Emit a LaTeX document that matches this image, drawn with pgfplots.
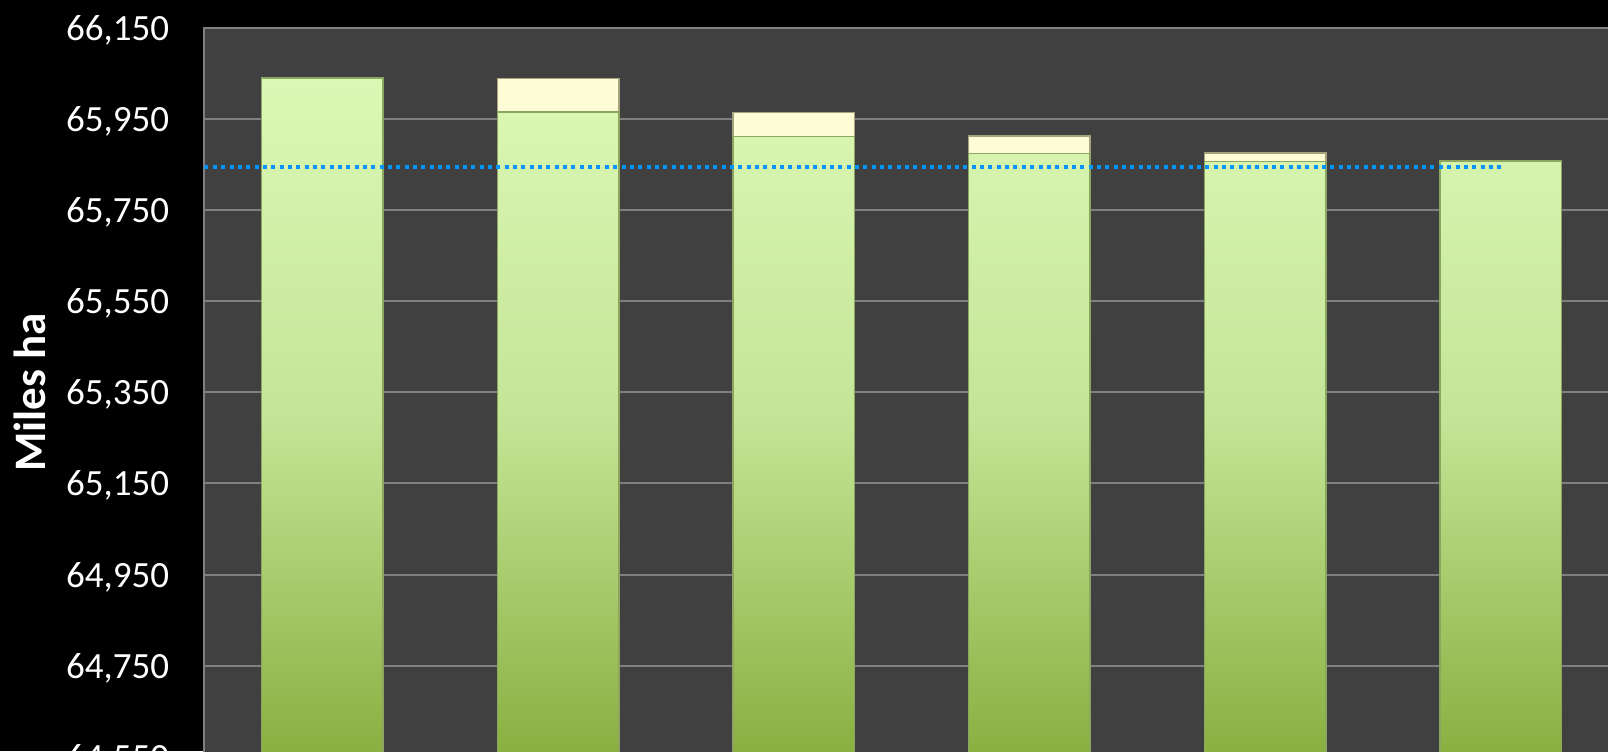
\documentclass[border=0pt]{standalone}
\usepackage{fontspec}
\setmainfont{Carlito}
\usepackage{pgfplots}
\pgfplotsset{compat=1.18}
\definecolor{plotbg}{HTML}{404040}
\definecolor{gridc}{HTML}{808080}
\definecolor{greentop}{RGB}{220,248,182}
\definecolor{greenmid}{RGB}{196,229,150}
\definecolor{greenbot}{RGB}{137,175,64}
\definecolor{greenedge}{RGB}{140,165,95}
\definecolor{cream}{RGB}{252,252,214}
\definecolor{creamedge}{RGB}{165,162,125}
\definecolor{blueline}{RGB}{0,150,255}
\begin{document}
\begin{tikzpicture}[x=1pt,y=1pt]
\useasboundingbox (0,0) rectangle (804,375.5);
\fill[black] (0,0) rectangle (804,375.5);
\clip (0,0) rectangle (804,375.5);
\begin{axis}[
  at={(102.25pt,-2.95pt)}, anchor=south west,
  scale only axis, width=707.1pt, height=364.6pt,
  xmin=-0.5, xmax=5.5, ymin=0, ymax=1600,
  y filter/.expression={y-64550},
  xtick=\empty,
  ytick={0,200,...,1600},
  yticklabels={{64,550},{64,750},{64,950},{65,150},{65,350},{65,550},{65,750},{65,950},{66,150}},
  yticklabel style={font=\fontsize{18.5}{20}\selectfont, text=white, anchor=east, inner sep=0pt, xshift=-17.5pt, text depth=0pt},
  major tick length=0pt,
  ymajorgrids, grid style={draw=gridc, line width=1pt},
  axis line style={draw=gridc, line width=1pt},
  axis background/.style={fill=plotbg},
  ylabel={Miles ha},
  every axis y label/.style={at={(rel axis cs:0,0.5)}, xshift=-87.25pt, rotate=90, anchor=center, font=\bfseries\fontsize{22.5}{24}\selectfont, text=white},
  clip=true,
]
\addplot[ybar, bar width=60.75pt, bar shift=0pt, fill=cream, draw=creamedge, line width=0.75pt]
  coordinates {(1,66039) (2,65964) (3,65912) (4,65875)};
\addplot[ybar, bar width=60.75pt, bar shift=0pt, draw=greenedge, line width=0.75pt,
  top color=greentop, bottom color=greenbot, middle color=greenmid]
  coordinates {(0,66040) (1,65965) (2,65911) (3,65874) (4,65856) (5,65858)};
\addplot[color=blueline, line width=2pt, dash pattern=on 2pt off 2.17pt, line cap=butt]
  coordinates {(-0.5,65844) (5,65844)};
\end{axis}
\end{tikzpicture}
\end{document}
